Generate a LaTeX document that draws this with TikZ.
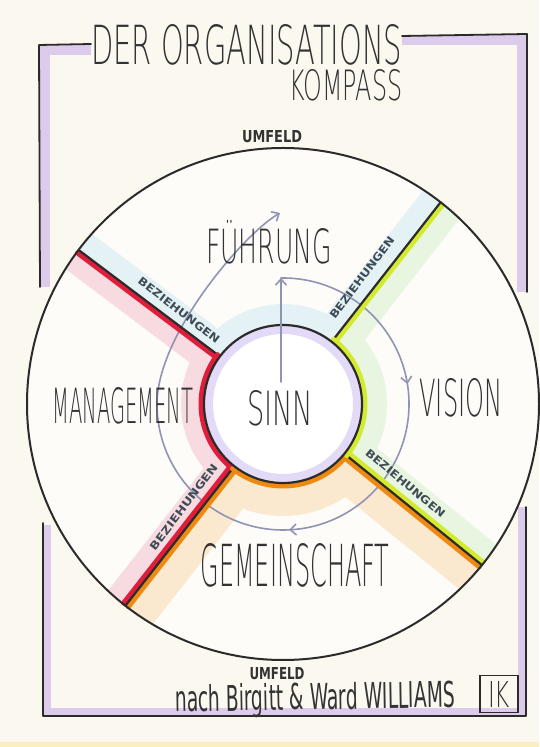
\documentclass[tikz,border=0pt]{standalone}
\usepackage{fontspec}
\setmainfont{DejaVu Sans}
\newfontfamily\handfont{DejaVuSans-ExtraLight.ttf}
\usepackage{graphicx}
\usetikzlibrary{positioning, arrows.meta, decorations.markings}

\definecolor{paper}{HTML}{FBF8F0}
\definecolor{streifen}{HTML}{FBEFC2}
\definecolor{ink}{HTML}{2B2B2B}
\definecolor{schrift}{HTML}{333333}
\definecolor{beziehung}{HTML}{3E4C55}
\definecolor{rahmen}{HTML}{DDCBEC}
\definecolor{sinnband}{HTML}{CBBDEF}
\definecolor{fuehrungblau}{HTML}{CCE8F2}
\definecolor{managementrosa}{HTML}{F3BCCA}
\definecolor{visiongruen}{HTML}{D2F0CA}
\definecolor{gemeinschaftgelb}{HTML}{FAD7A6}
\definecolor{rot}{HTML}{E01E3C}
\definecolor{orangestrich}{HTML}{EE8912}
\definecolor{gelbgruen}{HTML}{D4EA2E}
\definecolor{kreis}{HTML}{9193B5}

\newcommand{\handtext}[3]{\resizebox{#1pt}{#2pt}{#3}}

\tikzset{
  outline/.style={draw=ink, line width=2.2pt, line cap=round, line join=round},
  strip/.style={line width=5pt, line cap=round},
  kreispfeil/.style={color=kreis, line width=1.6pt, line cap=round},
  hand/.style={inner sep=0pt, text=schrift, font=\handfont},
  marker/.style={inner sep=0pt, text=beziehung, font=\bfseries},
  >={Straight Barb[length=6pt,width=11pt]}
}

\begin{document}
\begin{tikzpicture}[x=1pt, y=1pt]
	\useasboundingbox (0,0) rectangle (539,747);
	\fill[paper] (0,0) rectangle (539,747);
	\fill[streifen] (0,0) rectangle (539,5);
	\coordinate (C) at (283,343);

	\draw[rahmen, line width=10pt] (91,697) -- (45,697) -- (45,460);
	\draw[rahmen, line width=10pt] (402,707) -- (522,707) -- (522,455);
	\draw[rahmen, line width=8pt] (47,222) -- (47,35) -- (522,35) -- (522,240);
	\draw[outline, line width=1.8pt] (91,703) -- (39,702) -- (40,460);
	\draw[outline, line width=1.8pt] (402,711) -- (527,713) -- (527,455);
	\draw[outline, line width=1.8pt] (43,224) -- (43,31) -- (526,31) -- (526,240);

	\begin{scope}[shift={(C)}]
		\fill[paper!40!white] (0,0) circle (256);
		\foreach \a/\b/\col/\w in {52/143/fuehrungblau/42, -39/52/visiongruen/50, -128/-39/gemeinschaftgelb/66, 143/232/managementrosa/46} {
			\begin{scope}
				\clip (\a:79) -- (\a:256) arc[start angle=\a, end angle=\b, radius=256] -- (\b:79) arc[start angle=\b, end angle=\a, radius=79] -- cycle;
				\draw[\col, line width=\w pt, opacity=0.5, line join=round] (\a:256) -- (\a:79) arc[start angle=\a, end angle=\b, radius=79] -- (\b:256);
			\end{scope}
		}

		\draw[kreispfeil, ->, postaction={decorate}, decoration={markings,
			mark=at position 180pt with {\arrow{>}},
			mark=at position 392pt with {\arrow{>}}}]
			(91:126) arc[start angle=91, end angle=-180, radius=126]
			.. controls (-126,70) and (-38,171) .. (-3,191);

		\foreach \a/\s/\col in {143/3/rot, 52/-3/gelbgruen, -39/3/gelbgruen, -39/-3/orangestrich, -128/3/orangestrich, -128/-3/rot}
			\draw[strip, \col, rotate=\a] (80,\s) -- (255,\s);
		\foreach \a in {143, 52, -39, -128}
			\draw[outline] (\a:79) -- (\a:256);

		\fill[white] (0,0) circle (79);
		\draw[sinnband, line width=8pt, opacity=0.55] (0,0) circle (74);
		\draw[strip, rot] (143:82) arc[start angle=143, end angle=232, radius=82];
		\draw[strip, orangestrich] (232:82) arc[start angle=232, end angle=321, radius=82];
		\draw[strip, gelbgruen] (-39:82) arc[start angle=-39, end angle=52, radius=82];
		\draw[outline] (0,0) circle (79);
		\draw[outline, line width=2pt] (0,0) circle (256);

		\draw[kreispfeil, ->] (-2,22) -- (-2,126);

		\node[hand] (fuehrung) at (-14,158) {\handtext{126}{35}{F\smash{Ü}HRUNG}};
		\node[hand] (sinn) at (-3,-4) {\handtext{66}{35}{SINN}};
		\node[hand] (vision) at (178,6) {\handtext{83}{38}{VISION}};
		\node[hand] (management) at (-160,-2) {\handtext{141}{36}{MANAGEMENT}};
		\node[hand] (gemeinschaft) at (12,-161) {\handtext{189}{43}{GEMEINSCHAFT}};

		\node[marker, rotate=-38] (bezoben) at (138:140) {\handtext{100}{8}{BEZIEHUNGEN}};
		\node[marker, rotate=53] (bezrechts) at (58:149) {\handtext{100}{8}{BEZIEHUNGEN}};
		\node[marker, rotate=-40] (bezunten) at (-33:146) {\handtext{100}{8}{BEZIEHUNGEN}};
		\node[marker, rotate=53] (bezlinks) at (-134:143) {\handtext{105}{8}{BEZIEHUNGEN}};
	\end{scope}

	\node[hand, anchor=south west] (titel) at (91,682) {\handtext{311}{40}{DER ORGANISATIONS}};
	\node[hand, below=4pt of titel.south east, anchor=north east] (kompass) {\handtext{113}{31}{KOMPASS}};
	\node[marker, anchor=south, text=schrift] (umfeldoben) at (272,604) {\handtext{60}{12}{UMFELD}};
	\node[marker, anchor=south, text=schrift] (umfeldunten) at (277,67) {\handtext{55}{12}{UMFELD}};
	\node[hand, font=\normalfont, anchor=base west, rotate=1] (quelle) at (175,35) {\handtext{280}{27}{nach Birgitt \& Ward WILLIAMS}};
	\node[hand, draw=ink, line width=1.5pt, minimum width=38pt, minimum height=37pt] (ik) at (499,53) {\handtext{22}{26}{IK}};
\end{tikzpicture}
\end{document}
